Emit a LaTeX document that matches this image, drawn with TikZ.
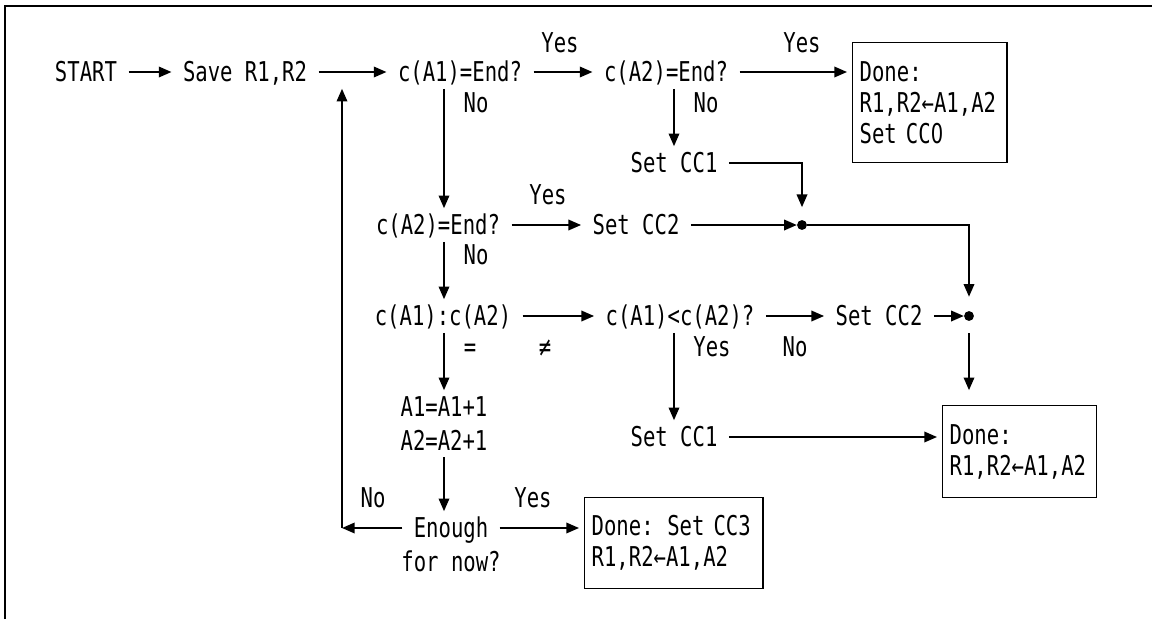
\documentclass[tikz,border=0pt]{standalone}
\usepackage{fontspec}
\newfontfamily\flowfont{DejaVu Sans Mono}[FakeStretch=0.755]
\newfontfamily\zerofont{DejaVu Sans}[FakeStretch=0.715]
\newcommand{\flowtext}{\flowfont\fontsize{19.4pt}{22pt}\selectfont}
\newcommand{\czero}{{\zerofont 0}}
\usetikzlibrary{arrows.meta}
\tikzset{
  txt/.style={font=\flowtext, text height=16.5pt, text depth=3pt, inner xsep=8pt, inner ysep=2pt},
  donebox/.style={draw, line width=1.2pt, font=\flowtext, align=left, anchor=north west,
    inner xsep=5pt, inner ysep=0pt, outer sep=4pt},
  flow/.style={line width=1.2pt, -{Triangle[length=9pt,width=7.5pt]}},
  joint/.style={circle, fill, inner sep=0pt, minimum size=7pt},
}
\begin{document}
\begin{tikzpicture}[x=0.025cm, y=-0.025cm]
  \useasboundingbox (0,0) rectangle (1152,619);
  % frame
  \draw[line width=1.6pt] (5,619) -- (5,6) -- (1152,6);

  % columns of the vertical lines
  \coordinate (colL) at (342,0);
  \coordinate (colA) at (444,0);
  \coordinate (colB) at (674,0);

  % first row
  \node[txt] (start) at (86,72) {START};
  \node[txt] (save) at (245,72) {Save R1,R2};
  \node[txt] (endA1) at (460,72) {c(A1)=End?};
  \node[txt] (endA2) at (666,72) {c(A2)=End?};
  \node[donebox, text width=100pt, minimum height=85.3pt] (done1) at (847,37)
    {Done:\\R1,R2←A1,A2\\Set CC\czero};
  \node[txt] (set1) at (674,163) {Set CC1};

  % second row
  \node[txt] (endA2b) at (438,225) {c(A2)=End?};
  \node[txt] (set2a) at (636,225) {Set CC2};
  \node[joint] (dot1) at (802,225) {};

  % third row
  \node[txt] (cmp) at (443,316) {c(A1):c(A2)};
  \node[txt] (lt) at (680,316) {c(A1)<c(A2)?};
  \node[txt] (set2b) at (879,316) {Set CC2};
  \node[joint] (dot2) at (969,316) {};

  % lower part
  \node[txt, label={[txt, name=incr2]below:A2=A2+1}] (incr) at (444,407) {A1=A1+1};
  \node[txt] (set1b) at (674,437) {Set CC1};
  \node[donebox, text width=99.5pt, minimum height=65.4pt] (done2) at (937,400)
    {Done:\\R1,R2←A1,A2};
  \node[txt, label={[txt, name=enough2]below:for now?}] (enough) at (451,528) {Enough};
  \node[donebox, text width=117pt, minimum height=64.7pt] (done3) at (579,492)
    {Done: Set CC3\\R1,R2←A1,A2};

  % labels
  \node[txt] (yes1) at (560,43) {Yes};
  \node[txt] (yes2) at (802,43) {Yes};
  \node[txt] (no1) at (476,103) {No};
  \node[txt] (no2) at (706,103) {No};
  \node[txt] (yes3) at (548,195) {Yes};
  \node[txt] (no3) at (476,255) {No};
  \node[txt] (eq) at (470,347) {=};
  \node[txt] (neq) at (545,347) {≠};
  \node[txt] (yes4) at (712,347) {Yes};
  \node[txt] (no4) at (795,347) {No};
  \node[txt] (no5) at (373,498) {No};
  \node[txt] (yes5) at (533,498) {Yes};

  % connectors
  \draw[flow] (start) -- (save);
  \draw[flow] (save) -- (endA1);
  \draw[flow] (endA1) -- (endA2);
  \draw[flow] (endA2.east) -- (endA2.east -| done1.west);
  \draw[flow] (endA1.south -| colA) -- (endA2b.north -| colA);
  \draw[flow] (endA2.south -| colB) -- (set1.north);
  \draw[flow, shorten >=9pt] (set1.east) -- (set1.east -| dot1) -- (dot1.north);
  \draw[flow] (endA2b) -- (set2a);
  \draw[flow] (set2a) -- (dot1);
  \draw[flow, shorten >=10pt] (dot1.east) -- (dot1 -| dot2) -- (dot2.north);
  \draw[flow] (endA2b.south -| colA) -- (cmp.north -| colA);
  \draw[flow] (cmp) -- (lt);
  \draw[flow] (lt) -- (set2b);
  \draw[flow] (set2b) -- (dot2);
  \draw[flow, shorten <=8.5pt, shorten >=7pt] (dot2.south) -- (dot2 |- done2.north);
  \draw[flow] (cmp.south -| colA) -- (incr.north);
  \draw[flow] (lt.south -| colB) -- (set1b.north);
  \draw[flow] (set1b.east) -- (set1b.east -| done2.west);
  \draw[flow] (incr2.south -| colA) -- (enough.north -| colA);
  \draw[flow] (enough.east) -- (enough.east -| done3.west);
  \draw[flow] (enough.west) -- (enough.west -| colL);
  \draw[flow] (enough.west -| colL) -- (colL |- save.south);
\end{tikzpicture}
\end{document}
